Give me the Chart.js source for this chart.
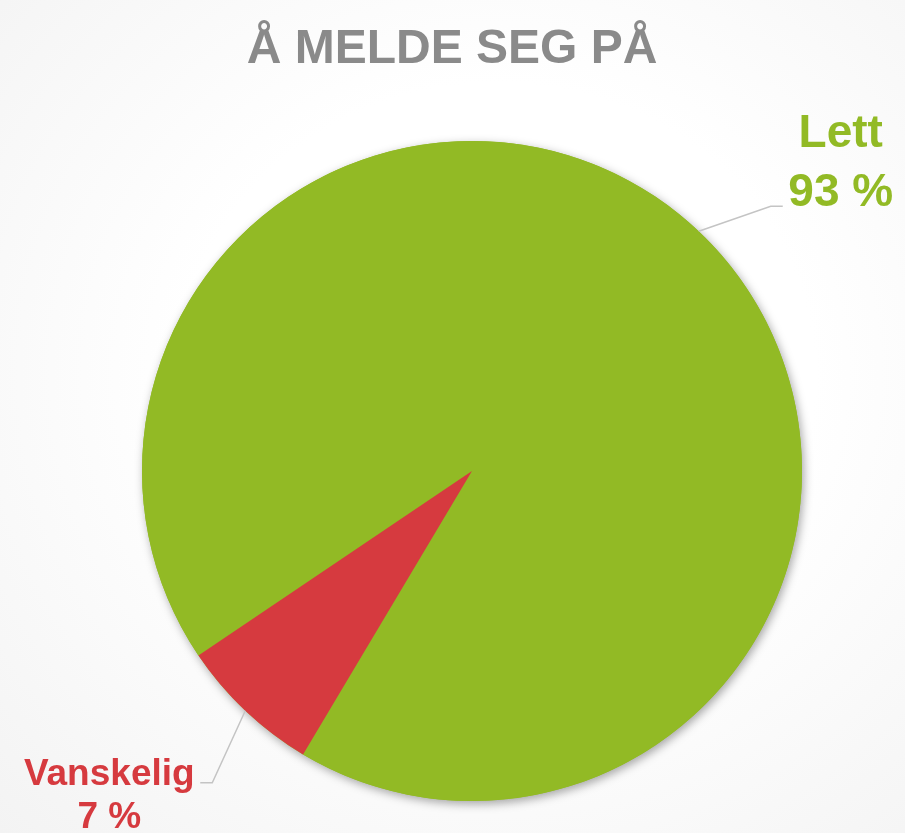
<!DOCTYPE html>
<html>
<head>
<meta charset="utf-8">
<script src="https://cdn.jsdelivr.net/npm/chart.js@4.4.1/dist/chart.umd.min.js"></script>
<style>
    html, body { margin: 0; padding: 0; overflow: hidden; }
    body {
        width: 905px; height: 833px;
        background: radial-gradient(ellipse at 55% 45%, #ffffff 45%, #f3f3f3 100%);
    }
    canvas { display: block; }
</style>
</head>
<body>
<canvas id="pieChart" width="905" height="833"></canvas>
<script>
// ═══ 데이터 ═══
const chartTitle  = 'Å MELDE SEG PÅ';
const categories  = ['Lett', 'Vanskelig'];
const percentages = [93, 7];
const sliceColors = ['#92BA25', '#D63A3F'];

// 라벨 배치 (리더선 꺾임점 / 텍스트 위치, 앵커 기준 상대값)
const labelLayout = [
    { elbowDx: 72,  elbowDy: -25, tailDx: 12,  textDx: 58,  base1: -59, base2: 0,  size1: 46, size2: 46 },
    { elbowDx: -33, elbowDy: 72,  tailDx: -12, textDx: -91, base1: 2,   base2: 45, size1: 37, size2: 37 }
];

const FONT = '"Liberation Sans", Arial, sans-serif';

/**
 * 파이 뒤 그림자 원
 */
const pieShadow = {
    id: 'pieShadow',
    beforeDatasetsDraw(chart) {
        const arc = chart.getDatasetMeta(0).data[0];
        if (!arc) return;
        const ctx = chart.ctx;
        ctx.save();
        ctx.shadowColor   = 'rgba(0,0,0,0.35)';
        ctx.shadowBlur    = 10;
        ctx.shadowOffsetX = 2;
        ctx.shadowOffsetY = 3;
        ctx.fillStyle = sliceColors[0];
        ctx.beginPath();
        ctx.arc(arc.x, arc.y, arc.outerRadius, 0, Math.PI * 2);
        ctx.fill();
        ctx.restore();
    }
};

/**
 * 제목 + 리더선 라벨
 */
const titleAndLabels = {
    id: 'titleAndLabels',
    afterDraw(chart) {
        const ctx = chart.ctx;
        ctx.save();

        ctx.fillStyle = '#8a8a8a';
        ctx.font = `bold 48px ${FONT}`;
        ctx.textAlign = 'center';
        ctx.textBaseline = 'alphabetic';
        ctx.fillText(chartTitle, 452, 63);

        chart.getDatasetMeta(0).data.forEach((arc, i) => {
            const lay = labelLayout[i];
            const mid = (arc.startAngle + arc.endAngle) / 2;
            const ax  = arc.x + arc.outerRadius * Math.cos(mid);
            const ay  = arc.y + arc.outerRadius * Math.sin(mid);
            const ex  = ax + lay.elbowDx, ey = ay + lay.elbowDy;
            const tx  = ex + lay.tailDx;

            ctx.strokeStyle = '#c4c4c4';
            ctx.lineWidth = 1.5;
            ctx.beginPath();
            ctx.moveTo(ax, ay);
            ctx.lineTo(ex, ey);
            ctx.lineTo(tx, ey);
            ctx.stroke();

            ctx.fillStyle = sliceColors[i];
            ctx.textAlign = 'center';
            ctx.font = `bold ${lay.size1}px ${FONT}`;
            ctx.fillText(categories[i], tx + lay.textDx, ey + lay.base1);
            ctx.font = `bold ${lay.size2}px ${FONT}`;
            ctx.fillText(percentages[i] + ' %', tx + lay.textDx, ey + lay.base2);
        });

        ctx.restore();
    }
};

new Chart(document.getElementById('pieChart').getContext('2d'), {
    type: 'pie',
    data: {
        labels: categories,
        datasets: [{
            data: percentages,
            backgroundColor: sliceColors,
            borderWidth: 0,
            hoverOffset: 0
        }]
    },
    options: {
        responsive: false,
        animation: false,
        rotation: 236,
        layout: { padding: { top: 141, bottom: 32, left: 142, right: 103 } },
        plugins: {
            legend:  { display: false },
            tooltip: { enabled: false }
        }
    },
    plugins: [pieShadow, titleAndLabels]
});
</script>
</body>
</html>
